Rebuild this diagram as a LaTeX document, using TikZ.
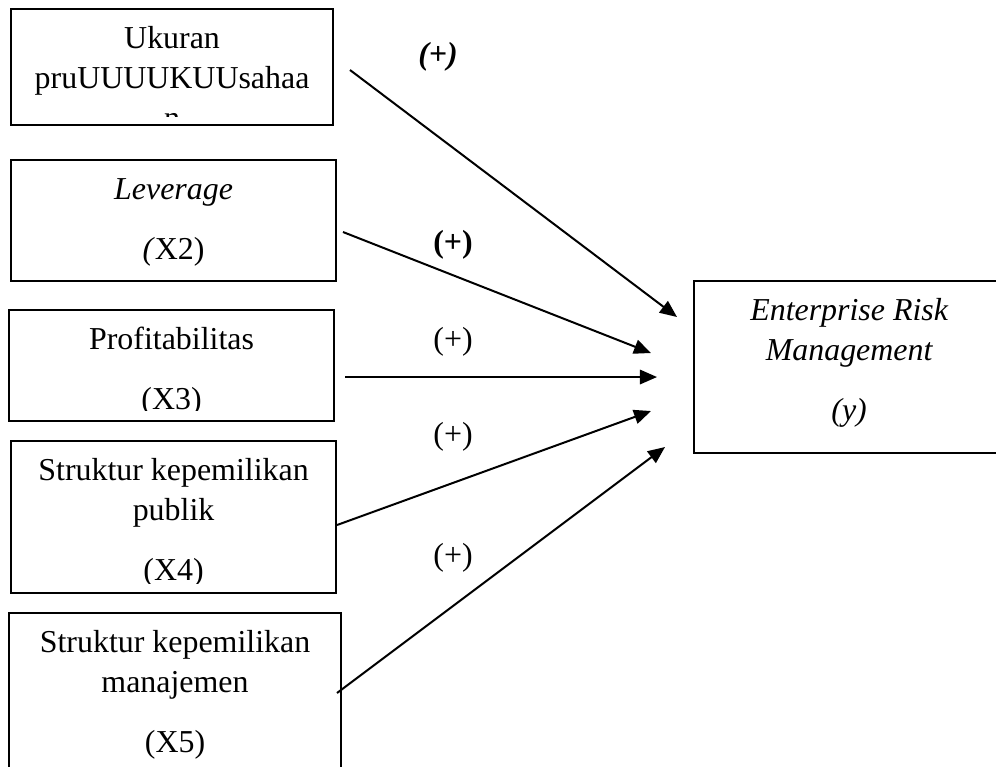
\documentclass[tikz,border=0pt]{standalone}
\usepackage{fontspec}
\setmainfont{Liberation Serif}
\usetikzlibrary{arrows.meta,calc}
\tikzset{
  varbox/.style={rectangle,draw=black,line width=0.8pt,inner sep=0pt,anchor=north west},
  vartext/.style={align=center,anchor=north,inner sep=0pt,yshift=-4.7pt,
    font=\fontsize{12}{15}\selectfont},
  sign/.style={inner sep=0pt,font=\fontsize{12}{15}\selectfont},
  arrow/.style={-{Triangle[length=6.4pt,width=5.4pt]},line width=0.75pt,draw=black}
}

\begin{document}
\begin{tikzpicture}[x=0.376pt,y=-0.376pt]
\clip (0,0) rectangle (996,766);
% variable boxes
\node[varbox,minimum width=121.1pt,minimum height=43.6pt] (x1) at (10,8) {};
\node[varbox,minimum width=122.2pt,minimum height=45.5pt] (x2) at (10,159) {};
\node[varbox,minimum width=122.2pt,minimum height=41.7pt] (x3) at (8,309) {};
\node[varbox,minimum width=122.2pt,minimum height=57.2pt] (x4) at (10,440) {};
\node[varbox,minimum width=124.8pt,minimum height=63.2pt] (x5) at (8,612) {};
\node[varbox,minimum width=116.6pt,minimum height=64.7pt] (erm) at (693,280) {};
% box texts, cut off at the inner margin
\begin{scope}
\clip (x1.north west) rectangle ($(x1.south east)+(0,-10)$);
\node[vartext] (x1t) at (x1.north) {\strut Ukuran\\pruUUUUKUUsahaa\\n};
\end{scope}
\begin{scope}
\clip (x2.north west) rectangle ($(x2.south east)+(0,-9)$);
\node[vartext] (x2t) at (x2.north) {\strut\textit{Leverage}\\[7.5pt]\textit{(}X2)};
\end{scope}
\begin{scope}
\clip (x3.north west) rectangle ($(x3.south east)+(0,-12)$);
\node[vartext] (x3t) at (x3.north) {\strut Profitabilitas\\[7.5pt](X3)};
\end{scope}
\begin{scope}
\clip (x4.north west) rectangle ($(x4.south east)+(0,-11)$);
\node[vartext] (x4t) at (x4.north) {\strut Struktur kepemilikan\\publik\\[7.5pt](X4)};
\end{scope}
\node[vartext] (x5t) at (x5.north) {\strut Struktur kepemilikan\\manajemen\\[7.5pt](X5)};
\node[vartext,font=\fontsize{12}{15}\selectfont\itshape] (ermt) at (erm.north)
  {\strut Enterprise Risk\\Management\\[7.5pt](y)};
% arrow ends
\coordinate (s1) at (350,70);  \coordinate (e1) at (677,317);
\coordinate (s2) at (343,232); \coordinate (e2) at (651,353);
\coordinate (s3) at (345,377); \coordinate (e3) at (657,377);
\coordinate (s4) at (337,525); \coordinate (e4) at (651,411);
\coordinate (s5) at (337,693); \coordinate (e5) at (665,447);
\draw[arrow] (s1) -- (e1);
\draw[arrow] (s2) -- (e2);
\draw[arrow] (s3) -- (e3);
\draw[arrow] (s4) -- (e4);
\draw[arrow] (s5) -- (e5);
% signs
\node[sign] (p1) at (438,57) {\textbf{\textit{(+)}}};
\node[sign] (p2) at (453,245) {\textbf{(+)}};
\node[sign] (p3) at (453,342) {(+)};
\node[sign] (p4) at (453,437) {(+)};
\node[sign] (p5) at (453,558) {(+)};
\end{tikzpicture}
\end{document}
